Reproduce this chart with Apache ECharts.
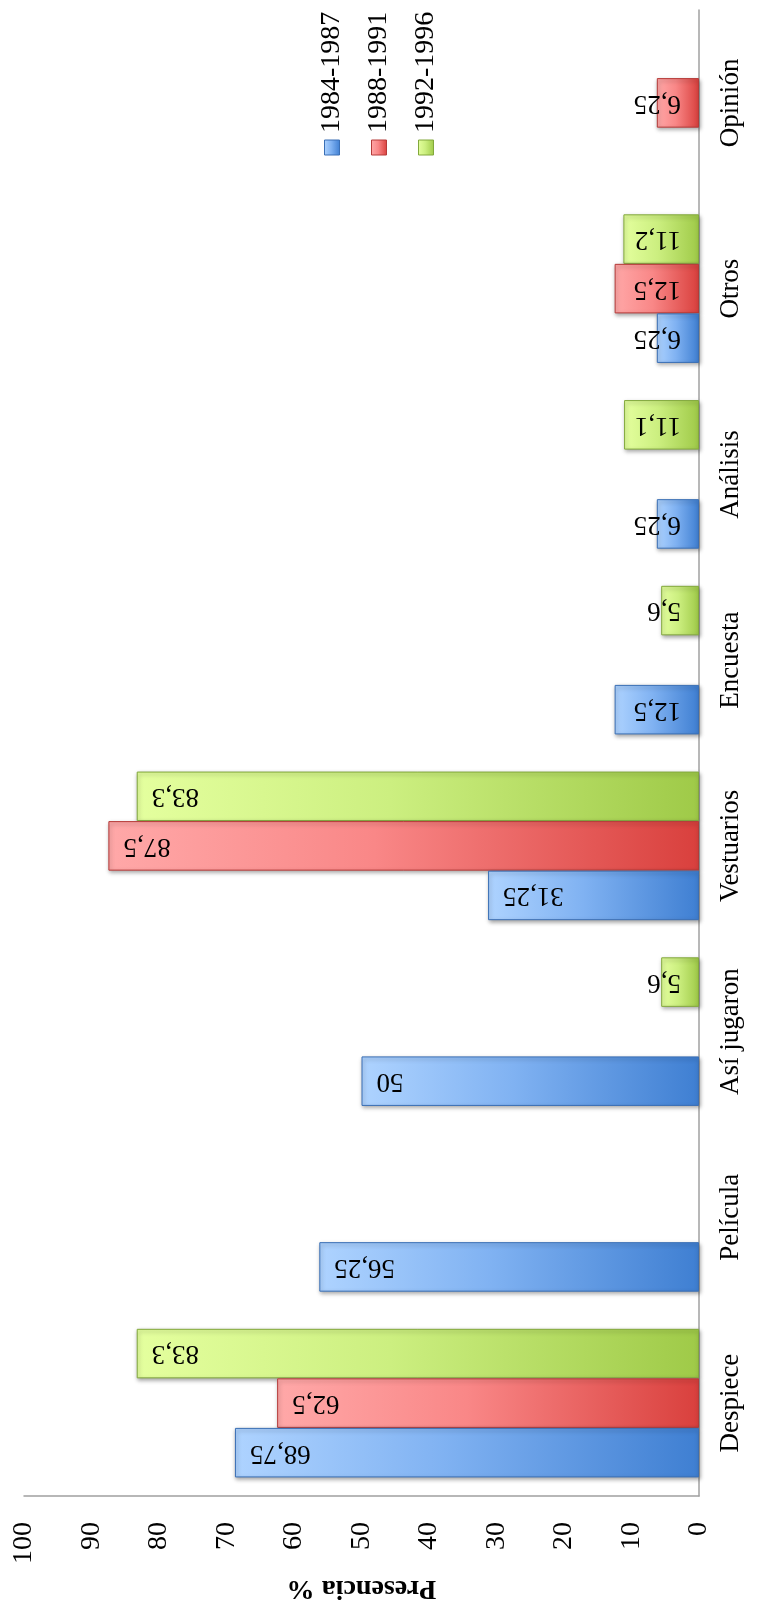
<!DOCTYPE html>
<html>
<head>
<meta charset="utf-8">
<script src="https://cdn.jsdelivr.net/npm/echarts@6/dist/echarts.min.js"></script>
<style>
  html, body { margin: 0; padding: 0; background: #ffffff; }
  #chart { width: 758px; height: 1609px; }
</style>
</head>
<body>
<div id="chart"></div>
<script>
// Sections of the sports coverage and the share (%) in which each appears, per period
const categories = ['Despiece', 'Película', 'Así jugaron', 'Vestuarios', 'Encuesta', 'Análisis', 'Otros', 'Opinión'];
const periods = ['1984-1987', '1988-1991', '1992-1996'];
const values1984 = [68.75, 56.25, 50, 31.25, 12.5, 6.25, 6.25, null];
const values1988 = [62.5, null, null, 87.5, null, null, 12.5, 6.25];
const values1992 = [83.3, null, 5.6, 83.3, 5.6, 11.1, 11.2, null];
const valueAxisMin = 0;
const valueAxisMax = 100;
const valueAxisStep = 10;
const valueAxisTitle = 'Presencia %';

// tip colour, middle colour, base colour, edge colour
const palettes = [
  ['#aed3ff', '#80b2f2', '#3f7fd2', '#3a6fb5'],
  ['#ffa8a8', '#f98787', '#d9403d', '#b53a38'],
  ['#e4ff9e', '#ccef80', '#9fca48', '#82a83c']
];
const seriesValues = [values1984, values1988, values1992];

const serif = '"Liberation Serif", "Times New Roman", serif';

function barGradient(p) {
  return new echarts.graphic.LinearGradient(0, 0, 1, 0, [
    { offset: 0, color: p[0] },
    { offset: 0.45, color: p[1] },
    { offset: 1, color: p[2] }
  ]);
}

// Labels sit near the bar tip; short bars keep them clear of the axis instead
const tipLabel = { position: 'insideLeft', distance: 15, align: 'right' };
const baseLabel = { position: 'insideRight', distance: 18, align: 'left' };

function makeSeries(i) {
  const p = palettes[i];
  return {
    name: periods[i],
    type: 'bar',
    barGap: '0%',
    barCategoryGap: '20%',
    data: seriesValues[i].map(v => v == null ? null : { value: v, label: v < 15 ? baseLabel : tipLabel }),
    itemStyle: {
      color: barGradient(p),
      borderColor: p[3],
      borderWidth: 1,
      shadowColor: 'rgba(0,0,0,0.35)',
      shadowBlur: 4,
      shadowOffsetX: 1,
      shadowOffsetY: 2
    },
    label: {
      show: true,
      rotate: 180,
      verticalAlign: 'middle',
      fontFamily: serif,
      fontSize: 27,
      color: '#000',
      formatter: d => String(d.value).replace('.', ',')
    },
    emphasis: { disabled: true }
  };
}

// Series listed last-to-first so the first period sits lowest in each group
const series = [2, 1, 0].map(makeSeries);

// Legend: icon with the period written upward above it
const legendX0 = 332, legendStep = 47, legendIconTop = 140, legendIconSize = 15, legendTextEnd = 133;
const legendGraphics = [];
periods.forEach((name, i) => {
  const x = legendX0 + i * legendStep;
  legendGraphics.push({
    type: 'rect',
    x: x - legendIconSize / 2,
    y: legendIconTop,
    shape: { width: legendIconSize, height: legendIconSize },
    style: { fill: barGradient(palettes[i]), stroke: palettes[i][3], lineWidth: 1 }
  });
  legendGraphics.push({
    type: 'text',
    x: x,
    y: legendTextEnd,
    rotation: Math.PI / 2,
    style: {
      text: name,
      fontFamily: serif,
      fontSize: 28,
      fill: '#000',
      align: 'left',
      verticalAlign: 'middle'
    }
  });
});

const chart = echarts.init(document.getElementById('chart'), null, { renderer: 'canvas' });
chart.setOption({
  backgroundColor: '#ffffff',
  animation: false,
  grid: { left: 24, right: 59, top: 10, bottom: 113, containLabel: false },
  xAxis: {
    type: 'value',
    min: valueAxisMin,
    max: valueAxisMax,
    interval: valueAxisStep,
    inverse: true,
    position: 'bottom',
    name: valueAxisTitle,
    nameLocation: 'middle',
    nameRotate: 180,
    nameGap: 78,
    nameTextStyle: { fontFamily: serif, fontSize: 28, fontWeight: 'bold', color: '#000' },
    axisLine: { show: true, lineStyle: { color: '#a0a0a0', width: 1.5 } },
    axisTick: { show: false },
    splitLine: { show: false },
    axisLabel: { rotate: 90, margin: 26, fontFamily: serif, fontSize: 28, color: '#000' }
  },
  yAxis: {
    type: 'category',
    position: 'right',
    data: categories,
    axisLine: { show: true, onZero: false, lineStyle: { color: '#a0a0a0', width: 1.5 } },
    axisTick: { show: false },
    splitLine: { show: false },
    axisLabel: { rotate: 90, margin: 18, fontFamily: serif, fontSize: 27, color: '#000', interval: 0 }
  },
  series: series,
  graphic: legendGraphics
});
</script>
</body>
</html>
